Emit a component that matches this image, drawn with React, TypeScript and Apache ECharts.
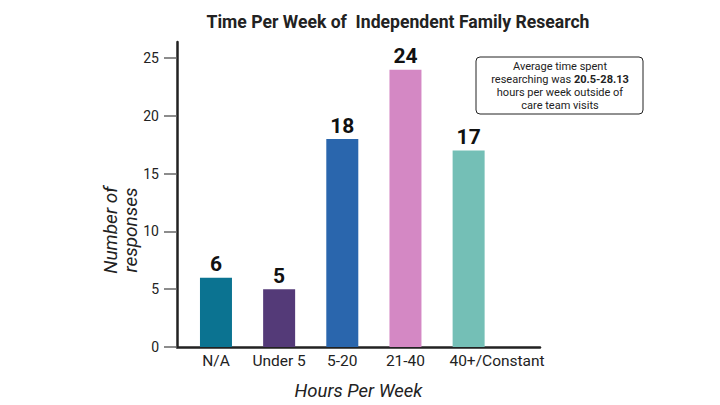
import React, { useEffect, useRef } from "react";
import * as echarts from "echarts";

const categories = ["N/A", "Under 5", "5-20", "21-40", "40+/Constant"];
const responses = [6, 5, 18, 24, 17];
const barColors = ["#0b7391", "#543a78", "#2a66ad", "#d488c4", "#74bfb6"];
const yTicks = [0, 5, 10, 15, 20, 25];
const labelPositions = [0, 1, 2, 3, 4.45];

export default function App() {
  const ref = useRef<HTMLDivElement>(null);
  useEffect(() => {
    if (!ref.current) return;
    const chart = echarts.init(ref.current, null, { renderer: "svg" });
    const font = "Roboto";
    chart.setOption({
      animation: false,
      backgroundColor: "#ffffff",
      textStyle: { fontFamily: font },
      title: {
        text: "Time Per Week of  Independent Family Research",
        left: 393,
        textAlign: "center",
        top: 8,
        textStyle: { fontFamily: font, fontSize: 17.6, fontWeight: "bold", color: "#222" },
      },
      grid: { left: 177, right: 180, top: 42, bottom: 57 },
      xAxis: {
        type: "value",
        min: -0.617,
        max: 5.13,
        splitLine: { show: false },
        axisLine: { show: true, onZero: false, lineStyle: { color: "#222", width: 2.5 } },
        axisTick: { show: false },
        axisLabel: {
          customValues: labelPositions,
          formatter: (v: number) => categories[Math.round(v)] ?? "",
          fontSize: 15.5,
          color: "#222",
          margin: 6,
          fontFamily: font,
        },
        name: "Hours Per Week",
        nameLocation: "middle",
        nameGap: 34,
        nameTextStyle: { fontSize: 18.5, fontStyle: "italic", color: "#222", fontFamily: font },
      },
      yAxis: {
        type: "value",
        min: 0,
        max: 26.4,
        splitLine: { show: false },
        axisLine: { show: true, onZero: false, lineStyle: { color: "#222", width: 2.5 } },
        axisTick: { show: true, customValues: yTicks, length: 13, lineStyle: { color: "#666", width: 1.5 } },
        axisLabel: { customValues: yTicks, fontSize: 14, color: "#222", margin: 18, fontFamily: font },
      },
      graphic: [
        {
          type: "text",
          x: 120,
          y: 230,
          rotation: Math.PI / 2,
          style: {
            text: "Number of\nresponses",
            fontSize: 19,
            fontStyle: "italic",
            fontFamily: font,
            fill: "#222",
            align: "center",
            verticalAlign: "middle",
            lineHeight: 20,
          },
        },
        {
          type: "rect",
          shape: { x: 476, y: 57, width: 167, height: 57, r: 4 },
          style: { fill: "#fff", stroke: "#222", lineWidth: 1 },
        },
        {
          type: "text",
          x: 560,
          y: 86,
          style: {
            text: "Average time spent\nresearching was {b|20.5-28.13}\nhours per week outside of\ncare team visits",
            fontSize: 11,
            fontFamily: font,
            fill: "#222",
            align: "center",
            verticalAlign: "middle",
            lineHeight: 13,
            rich: {
              b: { fontWeight: "bold", fontSize: 11, fontFamily: font, fill: "#222", lineHeight: 13 },
            },
          },
        },
      ],
      series: [
        {
          type: "bar",
          barWidth: 32,
          data: responses.map((v, i) => ({
            value: [i, v],
            itemStyle: { color: barColors[i] },
          })),
          label: {
            show: true,
            position: "top",
            distance: 3,
            formatter: (p: any) => String(p.value[1]),
            fontSize: 21,
            fontWeight: "bold",
            color: "#111",
            fontFamily: font,
          },
        },
      ],
    });
    return () => chart.dispose();
  }, []);
  return (
    <div
      ref={ref}
      style={{ position: "fixed", left: 0, top: 0, width: 720, height: 405 }}
    />
  );
}
